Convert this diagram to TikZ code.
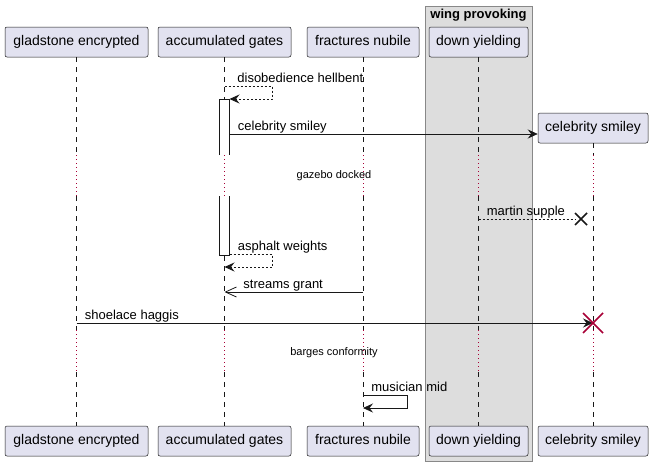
\documentclass[tikz,border=0pt]{standalone}
\usepackage{fontspec}
\setmainfont{Liberation Sans}
\usepackage{xcolor}
\usepackage{tikz}
\usetikzlibrary{arrows.meta}

\definecolor{partfill}{HTML}{E2E2F0}
\definecolor{linecol}{HTML}{181818}
\definecolor{delaycol}{HTML}{A80036}
\definecolor{boxfill}{HTML}{DDDDDD}
\definecolor{boxline}{HTML}{888888}

\begin{document}
\begin{tikzpicture}[x=1pt, y=-1pt, >={Stealth[length=10pt,width=9pt,inset=3.5pt]},
    part/.style={draw=linecol, line width=0.5pt, fill=partfill, rounded corners=2pt,
        minimum height=30pt, inner sep=0pt, text height=10.5pt, text depth=3pt,
        font=\fontsize{14}{16}\selectfont},
    life/.style={draw=linecol, line width=0.5pt, dash pattern=on 5pt off 5pt},
    delay/.style={draw=delaycol, line width=1pt, dash pattern=on 1pt off 3pt},
    bar/.style={draw=linecol, line width=0.8pt},
    msg/.style={draw=linecol, line width=0.8pt, ->},
    reply/.style={msg, dash pattern=on 2pt off 2pt},
    kill/.style={draw=linecol, line width=1.5pt},
    lbl/.style={anchor=base west, inner sep=0pt, xshift=8pt, yshift=4pt,
        font=\fontsize{13}{15}\selectfont},
    note/.style={inner sep=0pt, font=\fontsize{11}{13}\selectfont}]
    \useasboundingbox (0,0) rectangle (653,466);

    % Vẽ khung nhóm
    \draw[draw=boxline, line width=1pt, fill=boxfill] (425,6) rectangle (532,461);
    \node[font=\bfseries\fontsize{13}{15}\selectfont] (wp) at (478.5,15) {wing provoking};

    % Vẽ các đối tượng
    \foreach \n/\x/\w/\t in {ge/76.5/143/gladstone encrypted, ag/224.5/133/accumulated gates,
        fn/363/112/fractures nubile, dy/478.5/99/down yielding} {
        \node[part, minimum width=\w] (\n) at (\x,42) {\t};
        \node[part, minimum width=\w] (b\n) at (\x,441) {\t};
    }
    \node[part, minimum width=110] (cs) at (593,128) {celebrity smiley};
    \node[part, minimum width=110] (bcs) at (593,441) {celebrity smiley};

    % Vẽ đường sống
    \foreach \n in {ge,ag,fn,dy,cs} {
        \draw[life] (\n) -- (\n |- 0,155);
        \draw[delay] (\n |- 0,155) -- (\n |- 0,196);
        \draw[life] (\n |- 0,196) -- (\n |- 0,330);
        \draw[delay] (\n |- 0,330) -- (\n |- 0,372);
        \draw[life] (\n |- 0,372) -- (b\n);
    }

    % Vẽ thanh kích hoạt
    \fill[white] (219.5,99) rectangle (229.5,155);
    \draw[bar] (219.5,155) -- (219.5,99) -- (229.5,99) -- (229.5,155);
    \fill[white] (219.5,196) rectangle (229.5,255);
    \draw[bar] (219.5,196) -- (219.5,255) -- (229.5,255) -- (229.5,196);
    \coordinate (bar1) at (229.5,99);
    \coordinate (bar2) at (229.5,254);

    % Vẽ các thông điệp
    \draw[reply] (ag |- 0,86) -- node[lbl, pos=0, xshift=4.5pt] {disobedience hellbent}
        ++(47.5,0) -- ++(0,13) -- (bar1);
    \draw[msg] (bar1 |- 0,134) -- node[lbl, pos=0] {celebrity smiley} (cs.west |- 0,134);
    \node[note] (gd) at (334,176) {gazebo docked};
    \coordinate (mx) at (581,219);
    \draw[reply, -] (dy |- 0,219) -- node[lbl, pos=0] {martin supple} ([xshift=-5pt]mx);
    \draw[kill] (mx) ++(-6,-6) -- ++(12,12) (mx) ++(-6,6) -- ++(12,-12);
    \draw[reply] (bar2) -- node[lbl, pos=0] {asphalt weights}
        ++(42.5,0) -- ++(0,13) -- (ag |- 0,267);
    \draw[msg, -{Straight Barb[length=11pt,width=10pt]}] (fn |- 0,292)
        -- node[lbl, pos=1, xshift=10.5pt] {streams grant} (ag |- 0,292);
    \coordinate (dx) at (cs |- 0,323);
    \draw[msg] (ge |- 0,323) -- node[lbl, pos=0] {shoelace haggis} (dx);
    \draw[kill, draw=delaycol] (dx) ++(-10,-10) -- ++(20,20) (dx) ++(-10,10) -- ++(20,-20);
    \node[note] (bc) at (334,353) {barges conformity};
    \draw[msg] (fn |- 0,395) -- node[lbl, pos=0] {musician mid}
        ++(44,0) -- ++(0,13) -- (fn |- 0,408);

\end{tikzpicture}
\end{document}
